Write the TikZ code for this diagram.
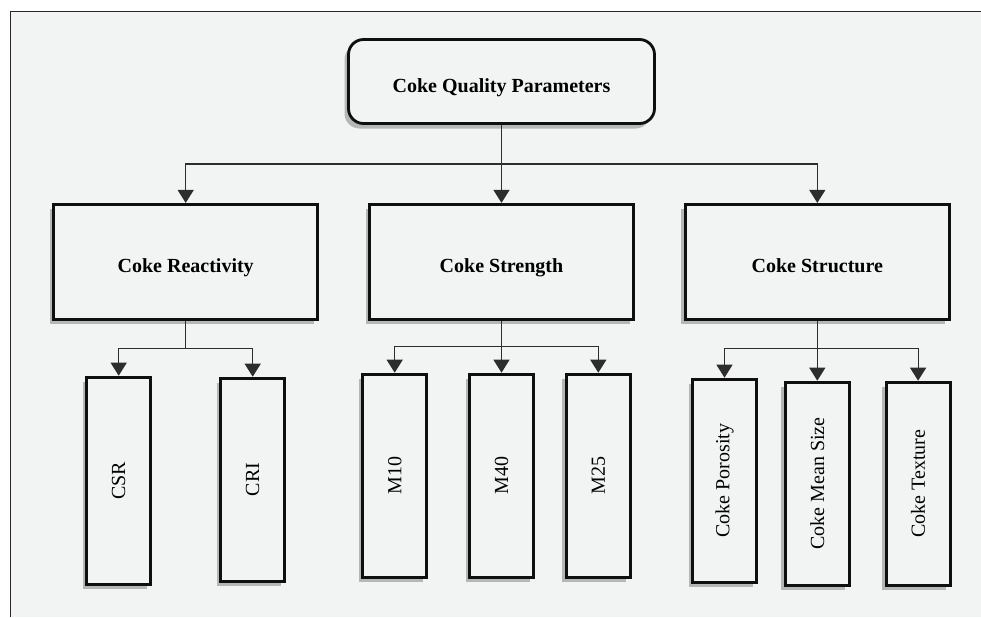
\documentclass[tikz,border=0pt]{standalone}
\usepackage{fontspec}
\setmainfont{Liberation Serif}
\usetikzlibrary{arrows.meta, positioning, shadows}
\definecolor{mybg}{RGB}{242,243,243}
\definecolor{myframe}{RGB}{40,40,40}
\definecolor{mydark}{RGB}{15,15,15}
\definecolor{myline}{RGB}{45,45,45}
\newcommand{\vlabel}[1]{\rotatebox{90}{#1}}
\tikzset{
  boxshadow/.style={drop shadow={shadow xshift=-2pt, shadow yshift=-2.5pt,
    opacity=0.25, fill=black}},
  topblock/.style={rectangle, draw=mydark, fill=mybg, rounded corners=7.5pt,
    minimum width=153pt, minimum height=42pt, font=\bfseries,
    text height=11pt, text depth=0pt, line width=1.4pt, boxshadow},
  block/.style={rectangle, draw=mydark, fill=mybg,
    minimum width=132pt, minimum height=57.5pt, font=\bfseries,
    text height=11pt, text depth=0pt, line width=1.4pt, boxshadow},
  leaf/.style={rectangle, draw=mydark, fill=mybg,
    minimum width=32pt, minimum height=101.5pt,
    line width=1.4pt, boxshadow},
  arrow/.style={-{Triangle[width=8pt,length=6.5pt]}, line width=0.6pt, color=myline}
}

\begin{document}
\begin{tikzpicture}
  % page and frame
  \useasboundingbox (0,0) rectangle (490.5pt,-308.5pt);
  \fill[mybg] (5.25pt,-5.75pt) rectangle (490.5pt,-308.5pt);
  \draw[myframe, line width=0.6pt] (5.25pt,-308.5pt) -- (5.25pt,-5.75pt) -- (490.5pt,-5.75pt);

  % top level
  \node (quality) [topblock] at (250.75pt,-40.75pt) {Coke Quality Parameters};

  % second level
  \node (strength) [block, below=39pt of quality] {Coke Strength};
  \node (reactivity) [block, left=24.5pt of strength] {Coke Reactivity};
  \node (structure) [block, right=24.5pt of strength] {Coke Structure};

  % third level
  \node (csr) [leaf, below=27.5pt of reactivity, xshift=-33.5pt, minimum height=103.5pt] {\vlabel{CSR}};
  \node (cri) [leaf, below=28pt of reactivity, xshift=33.5pt] {\vlabel{CRI}};
  \node (m40) [leaf, below=26pt of strength] {\vlabel{M40}};
  \node (m10) [leaf, left=20pt of m40] {\vlabel{M10}};
  \node (m25) [leaf, right=15pt of m40] {\vlabel{M25}};
  \node (meansize) [leaf, below=30pt of structure] {\vlabel{Coke Mean Size}};
  \node (porosity) [leaf, left=13pt of meansize, yshift=1.5pt] {\vlabel{Coke Porosity}};
  \node (texture) [leaf, right=17pt of meansize] {\vlabel{Coke Texture}};

  % connectors
  \draw [arrow] (quality.south) -- ++(0,-19.5pt) -| (reactivity.north);
  \draw [arrow] (quality.south) -- (strength.north);
  \draw [arrow] (quality.south) -- ++(0,-19.5pt) -| (structure.north);

  \draw [arrow] (reactivity.south) -- ++(0,-14pt) -| (csr.north);
  \draw [arrow] (reactivity.south) -- ++(0,-14pt) -| (cri.north);

  \draw [arrow] (strength.south) -- ++(0,-13pt) -| (m10.north);
  \draw [arrow] (strength.south) -- (m40.north);
  \draw [arrow] (strength.south) -- ++(0,-13pt) -| (m25.north);

  \draw [arrow] (structure.south) -- ++(0,-14pt) -| (porosity.north);
  \draw [arrow] (structure.south) -- (meansize.north);
  \draw [arrow] (structure.south) -- ++(0,-14pt) -| (texture.north);
\end{tikzpicture}
\end{document}
